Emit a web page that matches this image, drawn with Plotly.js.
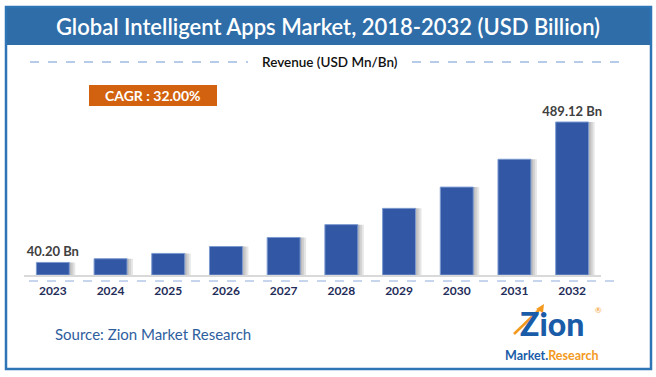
<!DOCTYPE html>
<html>
<head>
<meta charset="utf-8">
<script src="https://cdn.plot.ly/plotly-3.0.1.min.js"></script>
<style>html,body{margin:0;padding:0;background:#fff;}#chart{width:656px;height:377px;}</style>
</head>
<body>
<div id="chart"></div>
<script>
// ---- data ----
const years = ['2023','2024','2025','2026','2027','2028','2029','2030','2031','2032'];
const revenue = [40.20, 52.0, 69.0, 91.0, 120.0, 161.0, 213.0, 281.0, 370.0, 489.12];
const valueLabels = ['40.20 Bn','','','','','','','','','489.12 Bn'];
const titleText = 'Global Intelligent Apps Market, 2018-2032 (USD Billion)';
const seriesName = 'Revenue (USD Mn/Bn)';
const cagrText = 'CAGR : 32.00%';
const sourceText = 'Source: Zion Market Research';

// ---- layout geometry (pixels) ----
const FW = 656, FH = 377;
const M = {l: 24, r: 55, t: 60, b: 102};
const PW = FW - M.l - M.r, PH = FH - M.t - M.b;
const px = x => (x - M.l) / PW;
const py = y => (FH - M.b - y) / PH;
const FONT = 'Lato, "Open Sans", sans-serif';

const barW = 0.571, barOff = -barW / 2;
const unitPx = PW / years.length;

const traces = [];
// soft shadow layers
[6, 4, 2].forEach(s => {
  traces.push({
    type: 'bar', x: years, y: revenue, width: barW, offset: barOff + s / unitPx,
    marker: {color: 'rgba(60,60,60,0.13)', line: {width: 0}},
    hoverinfo: 'skip', showlegend: false
  });
});
traces.push({
  type: 'bar', x: years, y: revenue, name: seriesName,
  width: barW, offset: barOff,
  marker: {color: '#3157A5', line: {color: '#7D9AD0', width: 1}},
  text: valueLabels, textposition: 'outside', cliponaxis: false, constraintext: 'none',
  textfont: {family: FONT, size: 13, color: '#404040', weight: 'bold'},
  showlegend: false
});

const shapes = [
  // title bar
  {type: 'rect', xref: 'paper', yref: 'paper', x0: px(6), x1: px(651), y0: py(7), y1: py(45),
   fillcolor: '#2E6DA8', line: {width: 0}, layer: 'below'},
  // outer frame
  {type: 'rect', xref: 'paper', yref: 'paper', x0: px(6), x1: px(651), y0: py(7), y1: py(369),
   line: {color: '#2E75B6', width: 2.5}, fillcolor: 'rgba(0,0,0,0)'},
  // legend dashed lines
  {type: 'line', xref: 'paper', yref: 'paper', x0: px(30), x1: px(248), y0: py(62), y1: py(62),
   line: {color: '#6F98D3', width: 1, dash: 'dash'}},
  {type: 'line', xref: 'paper', yref: 'paper', x0: px(412), x1: px(620), y0: py(62), y1: py(62),
   line: {color: '#6F98D3', width: 1, dash: 'dash'}},
  // dashed line under axis
  {type: 'line', xref: 'paper', yref: 'paper', x0: px(29), x1: px(621), y0: py(281), y1: py(281),
   line: {color: '#8EAADB', width: 1, dash: 'dash'}},
  // CAGR box
  {type: 'rect', xref: 'paper', yref: 'paper', x0: px(89), x1: px(217), y0: py(85), y1: py(106),
   fillcolor: '#D2620F', line: {width: 0}},
  // logo arrow
  {type: 'line', xref: 'paper', yref: 'paper', x0: px(514), x1: px(540), y0: py(334), y1: py(309),
   line: {color: '#F39A1E', width: 2.5}},
  {type: 'path', xref: 'paper', yref: 'paper',
   path: `M ${px(536)} ${py(309)} L ${px(544)} ${py(304)} L ${px(543)} ${py(313)} Z`,
   fillcolor: '#F39A1E', line: {width: 0}}
];

const annotations = [
  {xref: 'paper', yref: 'paper', x: px(330), y: py(62), text: seriesName, showarrow: false,
   font: {family: FONT, size: 13.5, color: '#111111', weight: 600}, xanchor: 'center', yanchor: 'middle'},
  {xref: 'paper', yref: 'paper', x: px(153), y: py(95.5), text: cagrText, showarrow: false,
   font: {family: FONT, size: 14, color: '#FFFFFF', weight: 'bold'}, xanchor: 'center', yanchor: 'middle'},
  {xref: 'paper', yref: 'paper', x: px(53), y: py(334), text: sourceText, showarrow: false,
   font: {family: FONT, size: 15, color: '#2E5E9E'}, xanchor: 'left', yanchor: 'middle'},
  {xref: 'paper', yref: 'paper', x: px(552), y: py(323), text: 'Zion', showarrow: false,
   font: {family: FONT, size: 32, color: '#1A5CA8', weight: 900}, xanchor: 'center', yanchor: 'middle'},
  {xref: 'paper', yref: 'paper', x: px(552), y: py(355), showarrow: false,
   text: 'Market.<span style="color:#F39A1E">Research</span>',
   font: {family: FONT, size: 12.5, color: '#1A5CA8', weight: 'bold'}, xanchor: 'center', yanchor: 'middle'},
  {xref: 'paper', yref: 'paper', x: px(598), y: py(310), text: '®', showarrow: false,
   font: {family: FONT, size: 8, color: '#F39A1E'}, xanchor: 'center', yanchor: 'middle'}
];

const layout = {
  width: FW, height: FH,
  margin: M,
  paper_bgcolor: '#FFFFFF', plot_bgcolor: '#FFFFFF',
  barmode: 'overlay',
  title: {text: titleText, x: 0.5, xref: 'container', y: 1 - 27 / FH, yref: 'container',
          xanchor: 'center', yanchor: 'middle',
          font: {family: FONT, size: 22, color: '#FFFFFF', weight: 600}},
  xaxis: {type: 'category', range: [-0.5, 9.5], showline: true, linecolor: '#D9D9D9', linewidth: 1.5,
          showgrid: false, zeroline: false, ticks: '', fixedrange: true, ticklabelstandoff: 4,
          tickfont: {family: FONT, size: 12, color: '#1F2D5A', weight: 'bold'}},
  yaxis: {range: [0, 489.12 * PH / 153], visible: false, showgrid: false, zeroline: false, fixedrange: true},
  shapes: shapes,
  annotations: annotations,
  showlegend: false
};

Plotly.newPlot('chart', traces, layout, {displayModeBar: false, staticPlot: true});
</script>
</body>
</html>
